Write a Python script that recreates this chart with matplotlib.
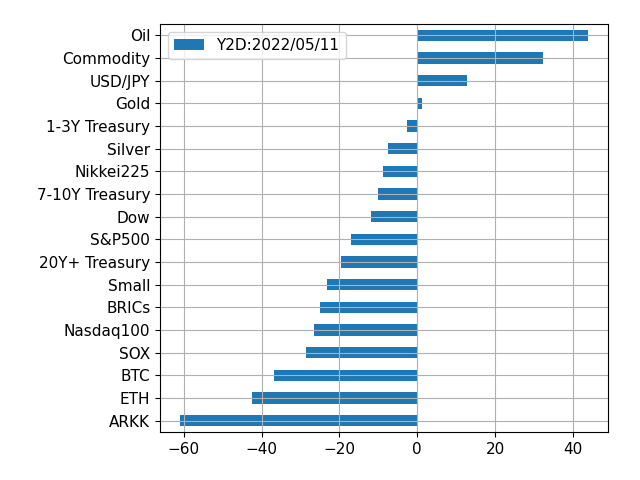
import pandas as pd
import matplotlib
matplotlib.use("Agg")
import matplotlib.pyplot as plt

assets = ["ARKK", "ETH", "BTC", "SOX", "Nasdaq100", "BRICs", "Small",
          "20Y+ Treasury", "S&P500", "Dow", "7-10Y Treasury", "Nikkei225",
          "Silver", "1-3Y Treasury", "Gold", "USD/JPY", "Commodity", "Oil"]
y2d = [-60.9, -42.4, -36.7, -28.6, -26.5, -24.9, -23.2,
       -19.6, -17.0, -11.9, -10.1, -8.8,
       -7.5, -2.6, 1.2, 12.9, 32.2, 43.8]


def main():
    plt.rcParams["font.size"] = 11
    df = pd.DataFrame({"Y2D:2022/05/11": y2d}, index=assets)

    fig, ax = plt.subplots(figsize=(6.4, 4.8), dpi=100)
    df.plot.barh(ax=ax, grid=True)
    ax.legend(loc="upper left")

    fig.subplots_adjust(left=0.25, right=0.95, top=0.95, bottom=0.1)
    plt.savefig("out.png")


if __name__ == "__main__":
    main()
